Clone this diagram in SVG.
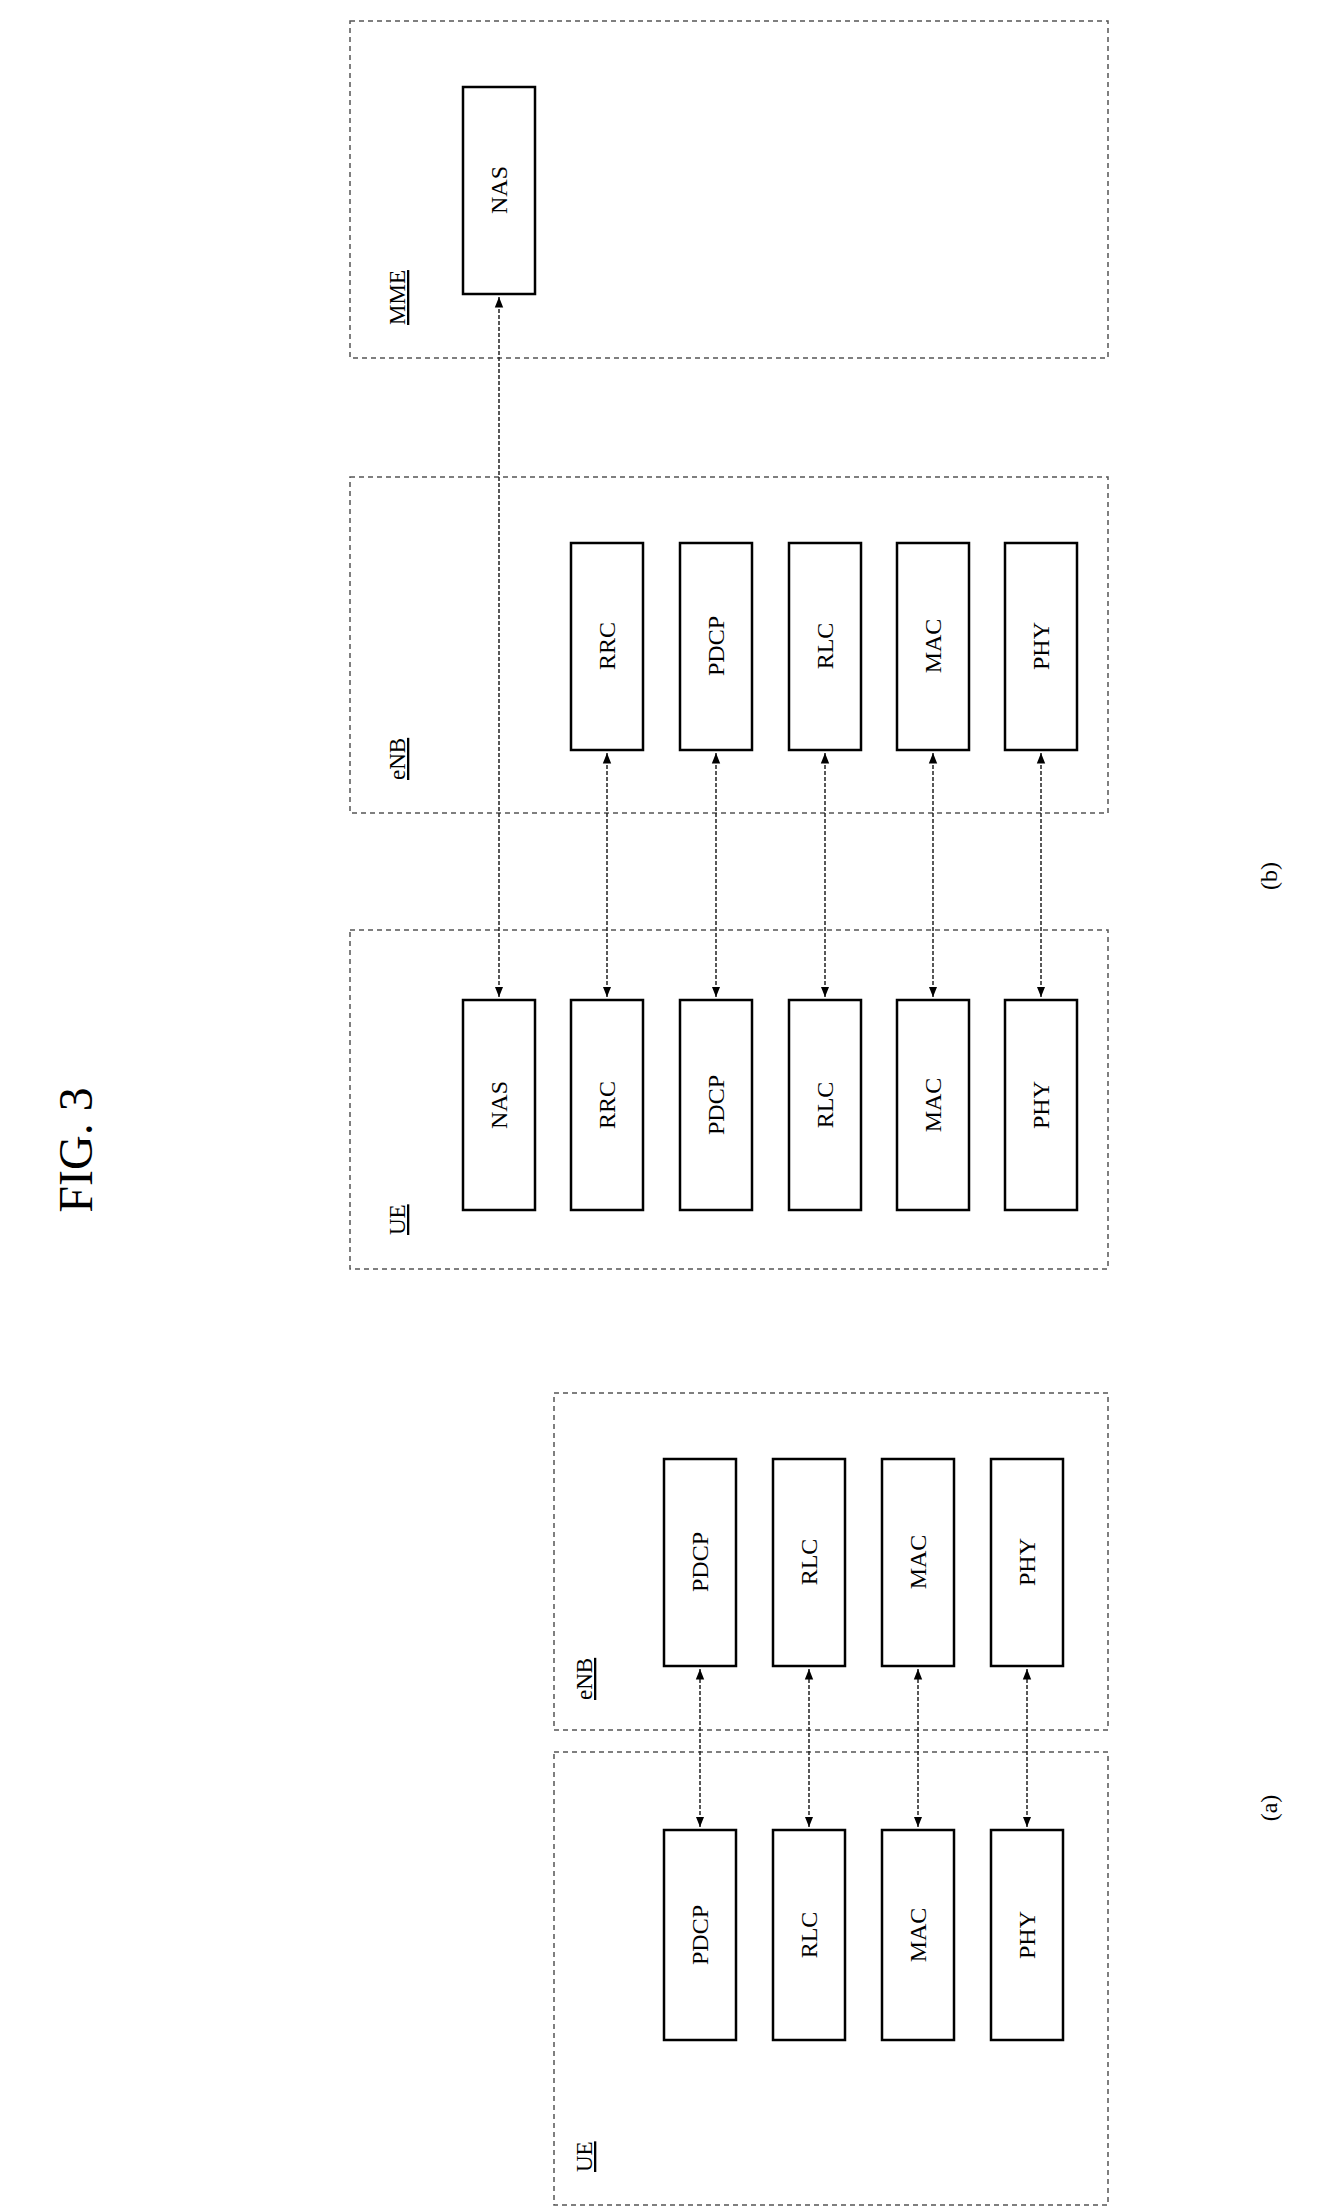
<svg xmlns="http://www.w3.org/2000/svg" width="1318" height="2212" viewBox="0 0 1318 2212">
<style>
.c{fill:none;stroke:#555;stroke-width:1.5;stroke-dasharray:5,4}
.n rect{fill:#fff;stroke:#000;stroke-width:2.5}
text{font-family:"Liberation Serif",serif;fill:#000}
.t{font-size:24px;text-anchor:middle;dominant-baseline:central}
.l{font-size:23px;text-decoration:underline}
.a{stroke:#222;stroke-width:1.5;stroke-dasharray:4,2;marker-start:url(#ah);marker-end:url(#ah)}
</style>
<defs><marker id="ah" viewBox="0 0 10 10" refX="10" refY="5" markerWidth="7" markerHeight="9" orient="auto-start-reverse"><path d="M0,1 L10,5 L0,9 z" fill="#000"/></marker></defs>
<rect width="1318" height="2212" fill="#fff"/>
<text transform="translate(75,1150) rotate(-90)" style="font-size:48px;text-anchor:middle;dominant-baseline:central">FIG. 3</text>
<g id="b-ue"><rect class="c" x="350" y="930" width="758" height="339"/><text class="l" transform="translate(405,1235) rotate(-90)">UE</text></g>
<g id="b-enb"><rect class="c" x="350" y="477" width="758" height="336"/><text class="l" transform="translate(405,780) rotate(-90)">eNB</text></g>
<g id="b-mme"><rect class="c" x="350" y="21" width="758" height="337"/><text class="l" transform="translate(405,325) rotate(-90)">MME</text></g>
<g id="b-ue-nas" class="n"><rect x="463" y="1000" width="72" height="210"/><text class="t" transform="translate(499,1105) rotate(-90)">NAS</text></g>
<g id="b-ue-rrc" class="n"><rect x="571" y="1000" width="72" height="210"/><text class="t" transform="translate(607,1105) rotate(-90)">RRC</text></g>
<g id="b-ue-pdcp" class="n"><rect x="680" y="1000" width="72" height="210"/><text class="t" transform="translate(716,1105) rotate(-90)">PDCP</text></g>
<g id="b-ue-rlc" class="n"><rect x="789" y="1000" width="72" height="210"/><text class="t" transform="translate(825,1105) rotate(-90)">RLC</text></g>
<g id="b-ue-mac" class="n"><rect x="897" y="1000" width="72" height="210"/><text class="t" transform="translate(933,1105) rotate(-90)">MAC</text></g>
<g id="b-ue-phy" class="n"><rect x="1005" y="1000" width="72" height="210"/><text class="t" transform="translate(1041,1105) rotate(-90)">PHY</text></g>
<g id="b-enb-rrc" class="n"><rect x="571" y="543" width="72" height="207"/><text class="t" transform="translate(607,646) rotate(-90)">RRC</text></g>
<g id="b-enb-pdcp" class="n"><rect x="680" y="543" width="72" height="207"/><text class="t" transform="translate(716,646) rotate(-90)">PDCP</text></g>
<g id="b-enb-rlc" class="n"><rect x="789" y="543" width="72" height="207"/><text class="t" transform="translate(825,646) rotate(-90)">RLC</text></g>
<g id="b-enb-mac" class="n"><rect x="897" y="543" width="72" height="207"/><text class="t" transform="translate(933,646) rotate(-90)">MAC</text></g>
<g id="b-enb-phy" class="n"><rect x="1005" y="543" width="72" height="207"/><text class="t" transform="translate(1041,646) rotate(-90)">PHY</text></g>
<g id="b-mme-nas" class="n"><rect x="463" y="87" width="72" height="207"/><text class="t" transform="translate(499,190) rotate(-90)">NAS</text></g>
<text transform="translate(1269,876) rotate(-90)" class="t">(b)</text>
<g id="a-ue"><rect class="c" x="554" y="1752" width="554" height="453"/><text class="l" transform="translate(592,2172) rotate(-90)">UE</text></g>
<g id="a-enb"><rect class="c" x="554" y="1393" width="554" height="337"/><text class="l" transform="translate(592,1700) rotate(-90)">eNB</text></g>
<g id="a-ue-pdcp" class="n"><rect x="664" y="1830" width="72" height="210"/><text class="t" transform="translate(700,1935) rotate(-90)">PDCP</text></g>
<g id="a-ue-rlc" class="n"><rect x="773" y="1830" width="72" height="210"/><text class="t" transform="translate(809,1935) rotate(-90)">RLC</text></g>
<g id="a-ue-mac" class="n"><rect x="882" y="1830" width="72" height="210"/><text class="t" transform="translate(918,1935) rotate(-90)">MAC</text></g>
<g id="a-ue-phy" class="n"><rect x="991" y="1830" width="72" height="210"/><text class="t" transform="translate(1027,1935) rotate(-90)">PHY</text></g>
<g id="a-enb-pdcp" class="n"><rect x="664" y="1459" width="72" height="207"/><text class="t" transform="translate(700,1562) rotate(-90)">PDCP</text></g>
<g id="a-enb-rlc" class="n"><rect x="773" y="1459" width="72" height="207"/><text class="t" transform="translate(809,1562) rotate(-90)">RLC</text></g>
<g id="a-enb-mac" class="n"><rect x="882" y="1459" width="72" height="207"/><text class="t" transform="translate(918,1562) rotate(-90)">MAC</text></g>
<g id="a-enb-phy" class="n"><rect x="991" y="1459" width="72" height="207"/><text class="t" transform="translate(1027,1562) rotate(-90)">PHY</text></g>
<text transform="translate(1269,1808) rotate(-90)" class="t">(a)</text>
<g id="connectors">
<line class="a" x1="499" y1="997" x2="499" y2="297"/>
<line class="a" x1="607" y1="997" x2="607" y2="753"/>
<line class="a" x1="716" y1="997" x2="716" y2="753"/>
<line class="a" x1="825" y1="997" x2="825" y2="753"/>
<line class="a" x1="933" y1="997" x2="933" y2="753"/>
<line class="a" x1="1041" y1="997" x2="1041" y2="753"/>
<line class="a" x1="700" y1="1827" x2="700" y2="1669"/>
<line class="a" x1="809" y1="1827" x2="809" y2="1669"/>
<line class="a" x1="918" y1="1827" x2="918" y2="1669"/>
<line class="a" x1="1027" y1="1827" x2="1027" y2="1669"/>
</g>
</svg>
